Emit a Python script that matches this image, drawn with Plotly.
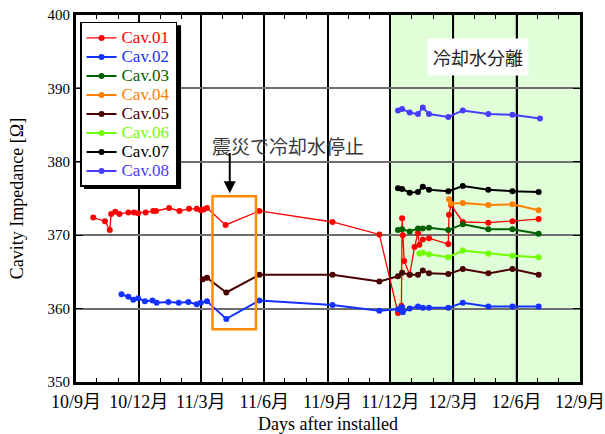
import plotly.graph_objects as go

# ---- measurement data -------------------------------------------------------
dates01 = ["2010-09-26", "2010-10-13", "2010-10-20", "2010-10-22", "2010-10-28", "2010-11-03",
           "2010-11-16", "2010-11-24", "2010-11-30", "2010-12-11", "2010-12-22", "2010-12-26",
           "2011-01-14", "2011-01-29", "2011-02-12", "2011-02-23", "2011-03-01", "2011-03-05",
           "2011-03-10", "2011-04-06", "2011-05-25", "2011-09-08", "2011-11-15", "2011-12-12",
           "2011-12-17", "2011-12-18", "2011-12-19", "2011-12-21", "2011-12-29", "2012-01-05",
           "2012-01-10", "2012-01-12", "2012-01-17", "2012-01-26", "2012-02-23", "2012-02-24",
           "2012-02-27", "2012-03-15", "2012-04-21", "2012-05-26", "2012-07-03"]
values01 = [372.4, 371.9, 370.7, 372.9, 373.2, 372.9, 373.1, 373.1, 373.0, 373.1, 373.3, 373.3,
            373.7, 373.3, 373.6, 373.6, 373.4, 373.5, 373.7, 371.4, 373.3, 371.8, 370.1, 359.4,
            360.4, 372.3, 370.0, 366.5, 364.6, 368.4, 370.3, 368.7, 369.4, 369.6, 368.8, 372.8,
            374.1, 371.8, 371.7, 371.9, 372.2]

dates02 = ["2010-11-06", "2010-11-16", "2010-11-23", "2010-11-30", "2010-12-10", "2010-12-21",
           "2010-12-27", "2011-01-13", "2011-01-28", "2011-02-11", "2011-02-23", "2011-03-01",
           "2011-03-10", "2011-04-07", "2011-05-25", "2011-09-08", "2011-11-15", "2011-12-12",
           "2011-12-18", "2011-12-19", "2011-12-29", "2012-01-10", "2012-01-17", "2012-01-26",
           "2012-02-23", "2012-03-15", "2012-04-21", "2012-05-26", "2012-07-03"]
values02 = [361.95, 361.6, 361.2, 361.4, 361.0, 361.1, 360.8, 360.9, 360.8, 360.9, 360.6, 360.8,
            361.0, 358.6, 361.1, 360.5, 359.7, 359.9, 360.2, 359.5, 360.0, 360.3, 360.1, 360.1,
            360.1, 360.8, 360.3, 360.3, 360.3]

dates03 = ["2011-12-12", "2011-12-18", "2011-12-29", "2012-01-10", "2012-01-17", "2012-01-26",
           "2012-02-23", "2012-03-15", "2012-04-21", "2012-05-26", "2012-07-03"]
values03 = [370.7, 370.8, 370.5, 370.9, 370.9, 371.0, 370.7, 371.5, 370.8, 370.8, 370.2]

dates04 = ["2012-02-24", "2012-02-27", "2012-03-15", "2012-04-21", "2012-05-26", "2012-07-03"]
values04 = [374.9, 374.3, 374.4, 374.1, 374.2, 373.4]

dates05 = ["2011-03-04", "2011-03-10", "2011-04-07", "2011-05-25", "2011-09-08", "2011-11-15",
           "2011-12-12", "2011-12-18", "2011-12-29", "2012-01-10", "2012-01-17", "2012-01-26",
           "2012-02-23", "2012-03-15", "2012-04-21", "2012-05-26", "2012-07-03"]
values05 = [364.0, 364.2, 362.2, 364.6, 364.6, 363.7, 364.4, 364.9, 364.6, 364.6, 365.2, 364.8,
            364.7, 365.4, 364.8, 365.4, 364.6]

dates06 = ["2012-01-12", "2012-01-17", "2012-01-26", "2012-02-23", "2012-03-15", "2012-04-21",
           "2012-05-26", "2012-07-03"]
values06 = [367.5, 367.6, 367.4, 367.0, 367.9, 367.5, 367.2, 367.0]

dates07 = ["2011-12-12", "2011-12-18", "2011-12-29", "2012-01-10", "2012-01-17", "2012-01-26",
           "2012-02-23", "2012-03-15", "2012-04-21", "2012-05-26", "2012-07-03"]
values07 = [376.4, 376.3, 375.8, 375.9, 376.6, 376.2, 376.0, 376.7, 376.2, 376.0, 375.9]

dates08 = ["2011-12-12", "2011-12-18", "2011-12-29", "2012-01-10", "2012-01-17", "2012-01-26",
           "2012-02-23", "2012-03-15", "2012-04-21", "2012-05-26", "2012-07-05"]
values08 = [387.0, 387.2, 386.7, 386.5, 387.4, 386.5, 386.1, 387.0, 386.5, 386.4, 385.9]

series_names = ["Cav.01", "Cav.02", "Cav.03", "Cav.04", "Cav.05", "Cav.06", "Cav.07", "Cav.08"]
series_colors = ["#ff0000", "#1432ff", "#006000", "#ff8000", "#4a0000", "#70ff00", "#000000", "#4a3cff"]
series_widths = [1.3, 2, 2, 2, 2, 2, 2, 2]

x_tick_vals = ["2010-09-01", "2010-12-01", "2011-03-01", "2011-06-01", "2011-09-01",
               "2011-12-01", "2012-03-01", "2012-06-01", "2012-09-01"]
x_tick_text = ["10/9月", "10/12月", "11/3月", "11/6月", "11/9月", "11/12月", "12/3月", "12/6月", "12/9月"]
y_tick_vals = [350, 360, 370, 380, 390, 400]

all_dates = [dates01, dates02, dates03, dates04, dates05, dates06, dates07, dates08]
all_values = [values01, values02, values03, values04, values05, values06, values07, values08]

SERIF = "Liberation Serif, Times New Roman, Noto Sans CJK JP, serif"

fig = go.Figure()
for name, color, width, xs, ys in zip(series_names, series_colors, series_widths, all_dates, all_values):
    fig.add_trace(go.Scatter(
        x=xs, y=ys, mode="lines+markers",
        name=f'<span style="color:{color};font-size:17px">{name}</span>',
        line=dict(color=color, width=width),
        marker=dict(color=color, size=6),
    ))

shapes = []
# cooling-water separated period (shaded)
shapes.append(dict(type="rect", xref="x", yref="paper", x0="2011-12-01", x1="2012-09-01",
                   y0=0, y1=1, fillcolor="#e0ffd8", line=dict(width=0), layer="below"))
# grey vertical grid inside the shaded period
for xv in ["2012-03-01", "2012-06-01"]:
    shapes.append(dict(type="line", xref="x", yref="paper", x0=xv, x1=xv, y0=0, y1=1,
                       line=dict(color="#6a6a6a", width=2), layer="between"))
# period when cooling water was stopped after the earthquake
shapes.append(dict(type="rect", xref="x", yref="y", x0="2011-03-18", x1="2011-05-20",
                   y0=357.2, y1=375.3, line=dict(color="#ff8a00", width=2.5),
                   fillcolor="rgba(0,0,0,0)", layer="above"))
# legend drop shadow
shapes.append(dict(type="rect", xref="x domain", yref="y domain", x0=0.016, x1=0.2085,
                   y0=0.526, y1=0.972, fillcolor="#000000", line=dict(width=0), layer="above"))

fig.update_layout(
    width=605, height=434,
    margin=dict(l=76, r=25, t=15, b=52, autoexpand=False),
    paper_bgcolor="white", plot_bgcolor="white",
    font=dict(family=SERIF, size=16, color="#000000"),
    shapes=shapes,
    showlegend=True,
    legend=dict(x=0.008, y=0.981, xanchor="left", yanchor="top",
                bgcolor="white", bordercolor="#000000", borderwidth=1.5,
                font=dict(family=SERIF, size=12), tracegroupgap=0,
                itemwidth=30),
    xaxis=dict(
        type="date", range=["2010-09-01", "2012-09-01"], automargin=False,
        tickmode="array", tickvals=x_tick_vals, ticktext=x_tick_text,
        tickfont=dict(size=18), ticklabelstandoff=1, ticklabeloverflow="allow",
        showgrid=True, gridcolor="#000000", gridwidth=2,
        showline=True, linecolor="#000000", linewidth=3, mirror="ticks",
        ticks="inside", ticklen=7, tickcolor="#000000",
        minor=dict(dtick="M1", ticks="inside", ticklen=4, tickcolor="#000000", showgrid=False),
        title=dict(text="Days after installed", font=dict(size=18), standoff=12),
        zeroline=False,
    ),
    yaxis=dict(
        range=[350, 400], tickvals=y_tick_vals, automargin=False,
        tickfont=dict(size=15),
        showgrid=True, gridcolor="#6e6e6e", gridwidth=1.5,
        showline=True, linecolor="#000000", linewidth=3, mirror="ticks",
        ticks="inside", ticklen=7, tickcolor="#000000",
        title=dict(text="Cavity Impedance [Ω]", font=dict(size=18), standoff=20),
        zeroline=False,
    ),
    annotations=[
        dict(x="2011-07-05", y=382.2, xref="x", yref="y", text="震災で冷却水停止",
             showarrow=False, font=dict(size=19, color="#3a3a3a",
                                        family="Noto Sans CJK JP, sans-serif")),
        dict(x="2011-04-12", y=375.7, xref="x", yref="y", text="",
             showarrow=True, ax="2011-04-12", ay=381.4, axref="x", ayref="y",
             arrowhead=2, arrowsize=1.2, arrowwidth=2, arrowcolor="#000000"),
        dict(x="2012-04-06", y=394.3, xref="x", yref="y", text="冷却水分離",
             showarrow=False, bgcolor="white", borderpad=5,
             font=dict(size=18, color="#222222", family="Noto Sans CJK JP, sans-serif")),
    ],
)

fig.write_html("out.html")
